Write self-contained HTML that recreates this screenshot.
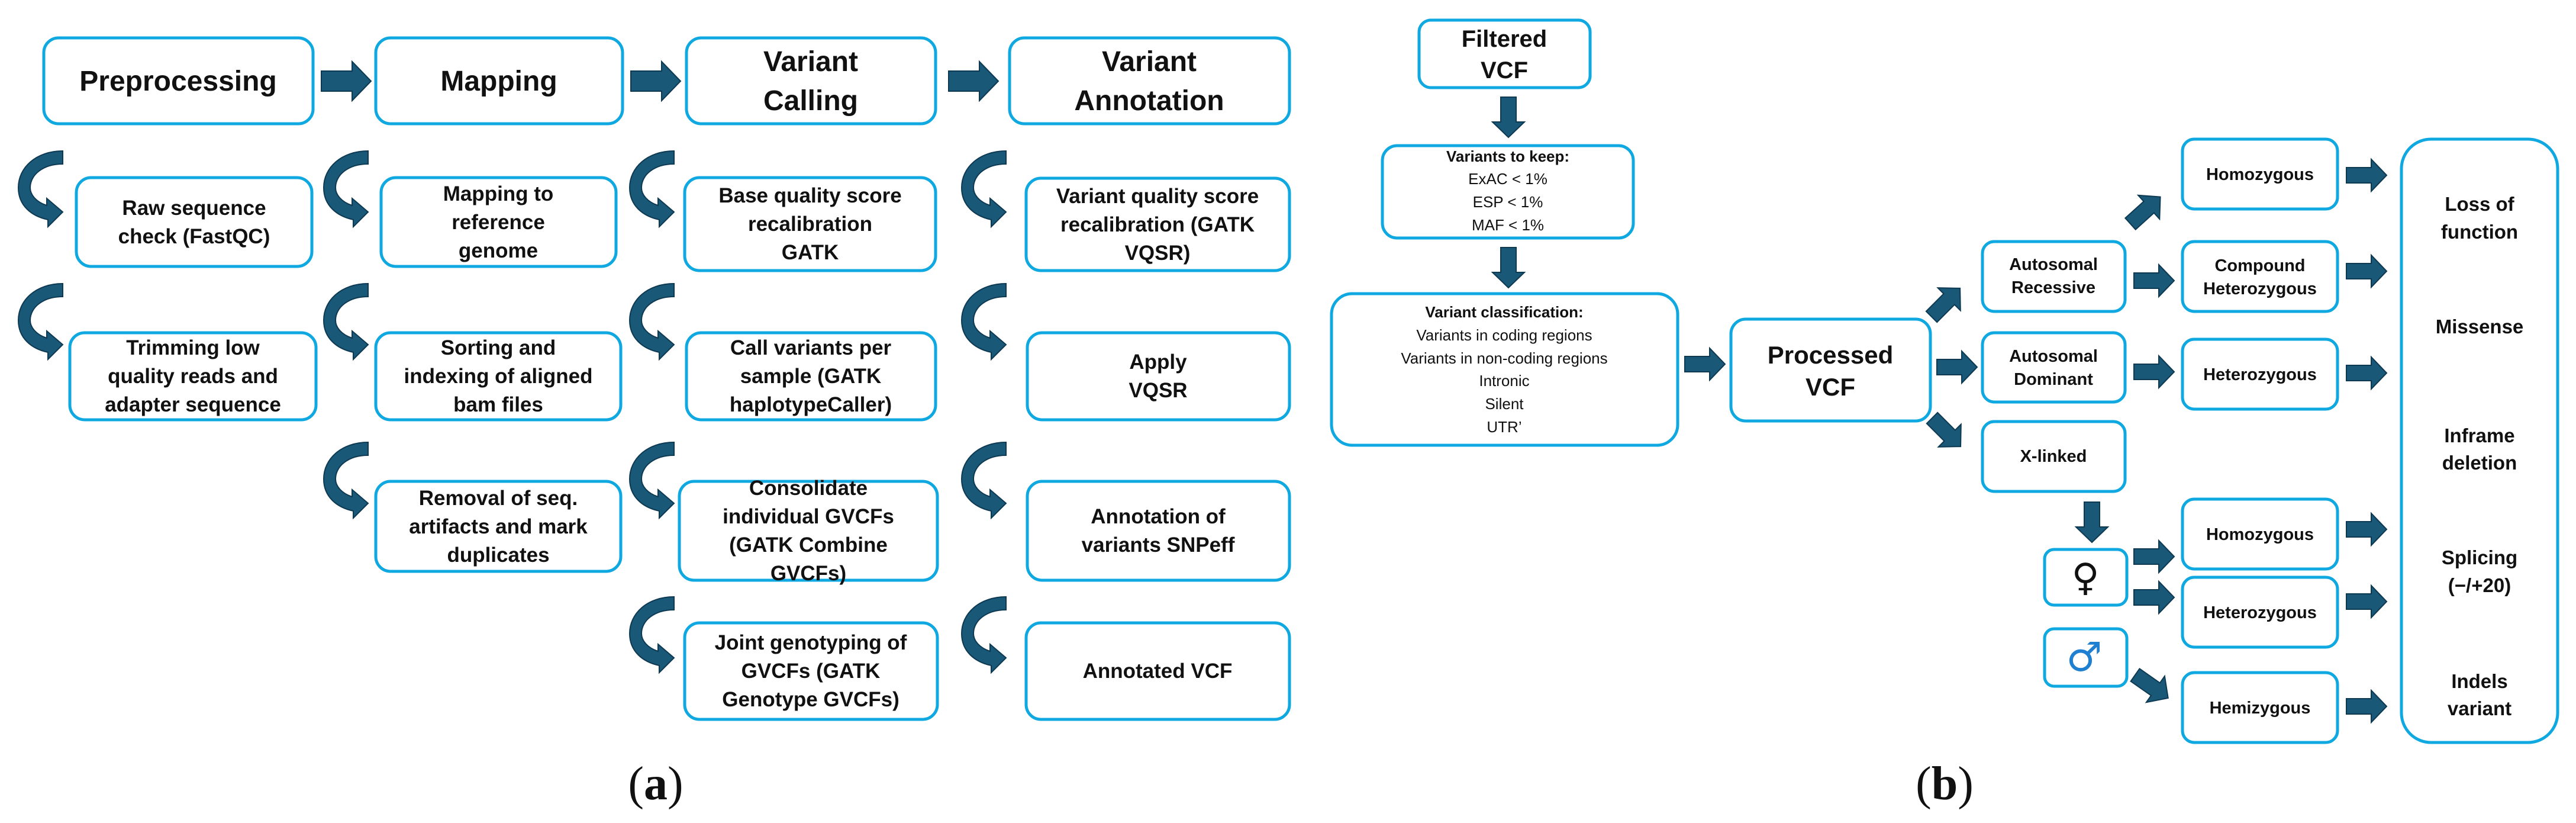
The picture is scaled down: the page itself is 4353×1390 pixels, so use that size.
<!DOCTYPE html>
<html><head><meta charset="utf-8"><style>
html,body{margin:0;padding:0;background:#fff}
svg{display:block}
text{font-family:"Liberation Sans",sans-serif;fill:#111;text-anchor:middle}
.b{font-weight:bold}
</style></head><body>
<svg width="4353" height="1390" viewBox="0 0 4353 1390" xmlns="http://www.w3.org/2000/svg">
<defs>
<polygon id="ra1" points="0,-17 52,-17 52,-33 84,0 52,33 52,17 0,17" fill="#1a5878" stroke="#0d3a52" stroke-width="2"/>
<polygon id="ra2" points="0,-13 42,-13 42,-27 68,0 42,27 42,13 0,13" fill="#1a5878" stroke="#0d3a52" stroke-width="2"/>
<path id="ca" d="M75,0 C30,0 0,28 0,62 C0,92 22,110 50,116 L50,128 L75,103 L48,80 L48,92 C30,86 20,74 20,62 C20,40 42,22 75,22 Z" fill="#1a5878" stroke="#0d3a52" stroke-width="2"/>
</defs>
<g fill="none" stroke="#0fa8e0" stroke-width="5">
<rect x="74" y="64" width="455" height="145" rx="25"/>
<rect x="635" y="64" width="417" height="145" rx="25"/>
<rect x="1160" y="64" width="421" height="145" rx="25"/>
<rect x="1706" y="64" width="473" height="145" rx="25"/>
<rect x="129" y="300" width="398" height="150" rx="25"/>
<rect x="644" y="300" width="397" height="150" rx="25"/>
<rect x="1157" y="300" width="424" height="157" rx="25"/>
<rect x="1734" y="301" width="445" height="156" rx="25"/>
<rect x="118" y="562" width="416" height="147" rx="25"/>
<rect x="635" y="562" width="414" height="147" rx="25"/>
<rect x="1160" y="562" width="421" height="147" rx="25"/>
<rect x="1736" y="562" width="443" height="147" rx="25"/>
<rect x="635" y="813" width="414" height="152" rx="25"/>
<rect x="1148" y="813" width="436" height="167" rx="25"/>
<rect x="1736" y="813" width="443" height="167" rx="25"/>
<rect x="1157" y="1052" width="427" height="163" rx="25"/>
<rect x="1734" y="1052" width="445" height="163" rx="25"/>
<rect x="2398" y="34" width="289" height="114" rx="20"/>
<rect x="2336" y="246" width="424" height="156" rx="25"/>
<rect x="2250" y="496" width="585" height="256" rx="35"/>
<rect x="2925" y="539" width="337" height="172" rx="25"/>
<rect x="3350" y="408" width="241" height="118" rx="20"/>
<rect x="3350" y="562" width="241" height="117" rx="20"/>
<rect x="3350" y="712" width="241" height="118" rx="20"/>
<rect x="3688" y="235" width="262" height="118" rx="20"/>
<rect x="3688" y="408" width="262" height="118" rx="20"/>
<rect x="3688" y="573" width="262" height="118" rx="20"/>
<rect x="3688" y="843" width="262" height="118" rx="20"/>
<rect x="3688" y="975" width="262" height="118" rx="20"/>
<rect x="3688" y="1136" width="262" height="118" rx="20"/>
<rect x="3455" y="928" width="139" height="94" rx="16"/>
<rect x="3455" y="1062" width="139" height="97" rx="16"/>
<rect x="4058" y="235" width="264" height="1019" rx="50"/>
</g>
<!-- top arrows -->
<use href="#ra1" x="543" y="137"/>
<use href="#ra1" x="1066" y="137"/>
<use href="#ra1" x="1603" y="137"/>
<!-- curved arrows -->
<use href="#ca" x="31" y="255"/><use href="#ca" x="31" y="479"/>
<use href="#ca" x="547" y="255"/><use href="#ca" x="547" y="479"/><use href="#ca" x="547" y="747"/>
<use href="#ca" x="1064" y="255"/><use href="#ca" x="1064" y="479"/><use href="#ca" x="1064" y="747"/><use href="#ca" x="1064" y="1008"/>
<use href="#ca" x="1625" y="255"/><use href="#ca" x="1625" y="479"/><use href="#ca" x="1625" y="747"/><use href="#ca" x="1625" y="1008"/>
<!-- right panel arrows -->
<g transform="translate(2549,164) rotate(90)"><use href="#ra2"/></g>
<g transform="translate(2549,418) rotate(90)"><use href="#ra2"/></g>
<use href="#ra2" x="2847" y="615"/>
<g transform="translate(3264,535) rotate(-45)"><use href="#ra2"/></g>
<use href="#ra2" x="3273" y="620"/>
<g transform="translate(3265,706) rotate(45)"><use href="#ra2"/></g>
<g transform="translate(3600,378) rotate(-42)"><use href="#ra2"/></g>
<use href="#ra2" x="3606" y="474"/>
<use href="#ra2" x="3606" y="628"/>
<g transform="translate(3535,848) rotate(90)"><use href="#ra2"/></g>
<use href="#ra2" x="3606" y="940"/>
<use href="#ra2" x="3606" y="1009"/>
<g transform="translate(3608,1140) rotate(35)"><use href="#ra2"/></g>
<use href="#ra2" x="3965" y="296"/>
<use href="#ra2" x="3965" y="458"/>
<use href="#ra2" x="3965" y="630"/>
<use href="#ra2" x="3965" y="894"/>
<use href="#ra2" x="3965" y="1016"/>
<use href="#ra2" x="3965" y="1193"/>
<!-- left text -->
<g class="b" font-size="48">
<text x="301" y="153">Preprocessing</text>
<text x="843" y="153">Mapping</text>
<text x="1370" y="120">Variant</text><text x="1370" y="186">Calling</text>
<text x="1942" y="120">Variant</text><text x="1942" y="186">Annotation</text>
</g>
<g class="b" font-size="35">
<text x="328" y="363">Raw sequence</text><text x="328" y="411">check (FastQC)</text>
<text x="842" y="339">Mapping to</text><text x="842" y="387">reference</text><text x="842" y="435">genome</text>
<text x="1369" y="342">Base quality score</text><text x="1369" y="390">recalibration</text><text x="1369" y="438">GATK</text>
<text x="1956" y="343">Variant quality score</text><text x="1956" y="391">recalibration (GATK</text><text x="1956" y="439">VQSR)</text>
<text x="326" y="599">Trimming low</text><text x="326" y="647">quality reads and</text><text x="326" y="695">adapter sequence</text>
<text x="842" y="599">Sorting and</text><text x="842" y="647">indexing of aligned</text><text x="842" y="695">bam files</text>
<text x="1370" y="599">Call variants per</text><text x="1370" y="647">sample (GATK</text><text x="1370" y="695">haplotypeCaller)</text>
<text x="1957" y="623">Apply</text><text x="1957" y="671">VQSR</text>
<text x="842" y="853">Removal of seq.</text><text x="842" y="901">artifacts and mark</text><text x="842" y="949">duplicates</text>
<text x="1366" y="836">Consolidate</text><text x="1366" y="884">individual GVCFs</text><text x="1366" y="932">(GATK Combine</text><text x="1366" y="980">GVCFs)</text>
<text x="1957" y="884">Annotation of</text><text x="1957" y="932">variants SNPeff</text>
<text x="1370" y="1097">Joint genotyping of</text><text x="1370" y="1145">GVCFs (GATK</text><text x="1370" y="1193">Genotype GVCFs)</text>
<text x="1956" y="1145">Annotated VCF</text>
</g>
<!-- right text -->
<g class="b" font-size="40"><text x="2542" y="79">Filtered</text><text x="2542" y="132">VCF</text></g>
<g font-size="26">
<text class="b" x="2548" y="273">Variants to keep:</text>
<text x="2548" y="311">ExAC &lt; 1%</text><text x="2548" y="350">ESP &lt; 1%</text><text x="2548" y="389">MAF &lt; 1%</text>
<text class="b" x="2542" y="536">Variant classification:</text>
<text x="2542" y="575">Variants in coding regions</text>
<text x="2542" y="614">Variants in non-coding regions</text>
<text x="2542" y="652">Intronic</text><text x="2542" y="691">Silent</text><text x="2542" y="730">UTR’</text>
</g>
<g class="b" font-size="42"><text x="3093" y="614">Processed</text><text x="3093" y="668">VCF</text></g>
<g class="b" font-size="29">
<text x="3470" y="456">Autosomal</text><text x="3470" y="495">Recessive</text>
<text x="3470" y="611">Autosomal</text><text x="3470" y="650">Dominant</text>
<text x="3470" y="780">X-linked</text>
<text x="3819" y="304">Homozygous</text>
<text x="3819" y="458">Compound</text><text x="3819" y="497">Heterozygous</text>
<text x="3819" y="642">Heterozygous</text>
<text x="3819" y="912">Homozygous</text>
<text x="3819" y="1044">Heterozygous</text>
<text x="3819" y="1205">Hemizygous</text>
</g>
<text x="3524" y="997" font-size="64" style="font-family:'DejaVu Sans',sans-serif">♀</text>
<text x="3522" y="1133" font-size="68" fill="#1f7fd0" style="font-family:'DejaVu Sans',sans-serif;fill:#1f7fd0">♂</text>
<g class="b" font-size="33">
<text x="4190" y="356">Loss of</text><text x="4190" y="403">function</text>
<text x="4190" y="563">Missense</text>
<text x="4190" y="747">Inframe</text><text x="4190" y="793">deletion</text>
<text x="4190" y="953">Splicing</text><text x="4190" y="1000">(−/+20)</text>
<text x="4190" y="1162">Indels</text><text x="4190" y="1208">variant</text>
</g>
<g font-size="80" style="font-family:'Liberation Serif',serif">
<text x="1108" y="1350" style="font-family:'Liberation Serif',serif">(<tspan font-weight="bold">a</tspan>)</text>
<text x="3286" y="1350" style="font-family:'Liberation Serif',serif">(<tspan font-weight="bold">b</tspan>)</text>
</g>
</svg>
</body></html>
